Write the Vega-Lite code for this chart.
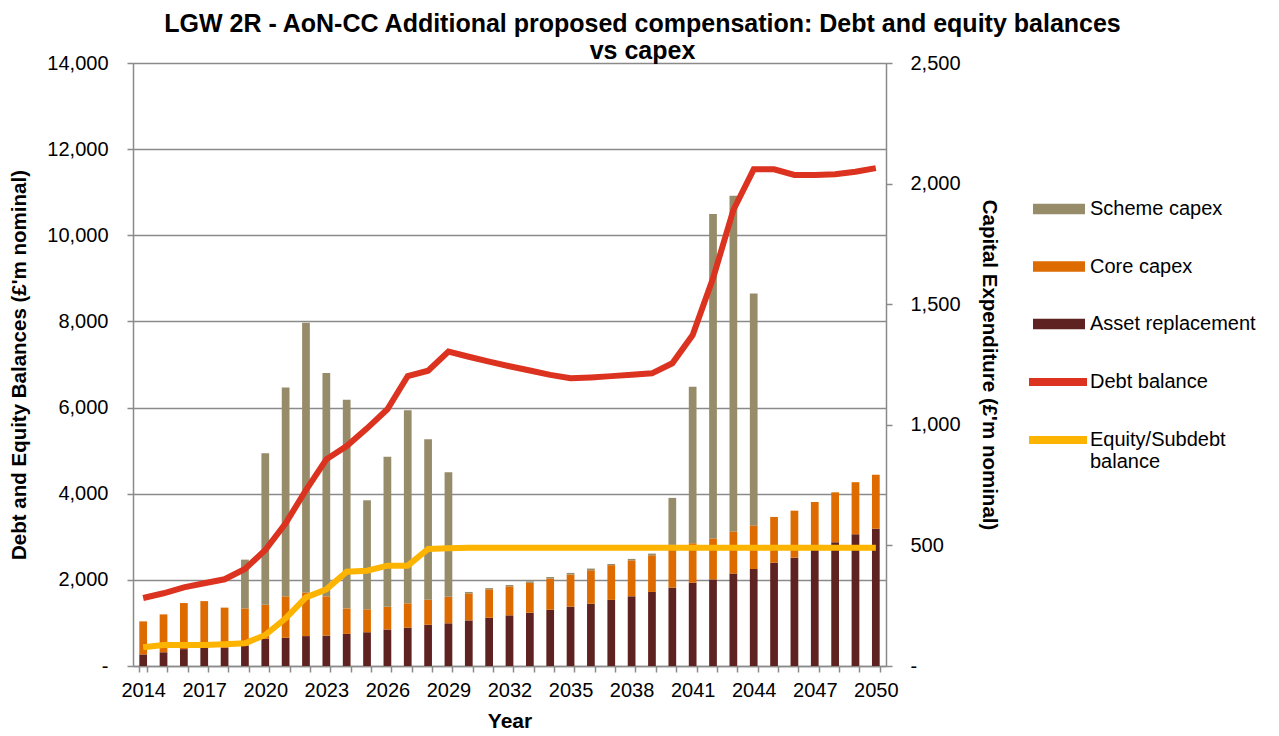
{
  "$schema": "https://vega.github.io/schema/vega-lite/v6.json",
  "width": 753,
  "height": 603,
  "autosize": {"type": "none"},
  "padding": {"left": 133, "top": 63, "right": 393, "bottom": 70},
  "background": "white",
  "config": {
    "font": "Liberation Sans",
    "view": {"stroke": null},
    "axis": {"labelColor": "black", "titleColor": "black", "domainColor": "#8a8a8a", "tickColor": "#8a8a8a", "gridColor": "#8a8a8a", "domainWidth": 1.5, "tickWidth": 1.5, "gridWidth": 1.5}
  },
  "title": {
    "text": ["LGW 2R - AoN-CC Additional proposed compensation: Debt and equity balances", "vs capex"],
    "fontSize": 25,
    "fontWeight": "bold",
    "color": "black",
    "anchor": "middle",
    "frame": "group",
    "dx": 133,
    "offset": -11,
    "lineHeight": 27
  },
  "datasets": {
    "capex": [
      {"year": 2014, "series": "Asset replacement", "value": 48}, {"year": 2014, "series": "Core capex", "value": 137},
      {"year": 2015, "series": "Asset replacement", "value": 57}, {"year": 2015, "series": "Core capex", "value": 157},
      {"year": 2016, "series": "Asset replacement", "value": 70}, {"year": 2016, "series": "Core capex", "value": 191},
      {"year": 2017, "series": "Asset replacement", "value": 76}, {"year": 2017, "series": "Core capex", "value": 193},
      {"year": 2018, "series": "Asset replacement", "value": 76}, {"year": 2018, "series": "Core capex", "value": 166},
      {"year": 2019, "series": "Asset replacement", "value": 84}, {"year": 2019, "series": "Core capex", "value": 155}, {"year": 2019, "series": "Scheme capex", "value": 202},
      {"year": 2020, "series": "Asset replacement", "value": 113}, {"year": 2020, "series": "Core capex", "value": 141}, {"year": 2020, "series": "Scheme capex", "value": 628},
      {"year": 2021, "series": "Asset replacement", "value": 117}, {"year": 2021, "series": "Core capex", "value": 172}, {"year": 2021, "series": "Scheme capex", "value": 866},
      {"year": 2022, "series": "Asset replacement", "value": 124}, {"year": 2022, "series": "Core capex", "value": 181}, {"year": 2022, "series": "Scheme capex", "value": 1118},
      {"year": 2023, "series": "Asset replacement", "value": 126}, {"year": 2023, "series": "Core capex", "value": 163}, {"year": 2023, "series": "Scheme capex", "value": 926},
      {"year": 2024, "series": "Asset replacement", "value": 133}, {"year": 2024, "series": "Core capex", "value": 106}, {"year": 2024, "series": "Scheme capex", "value": 865},
      {"year": 2025, "series": "Asset replacement", "value": 140}, {"year": 2025, "series": "Core capex", "value": 95}, {"year": 2025, "series": "Scheme capex", "value": 452},
      {"year": 2026, "series": "Asset replacement", "value": 151}, {"year": 2026, "series": "Core capex", "value": 95}, {"year": 2026, "series": "Scheme capex", "value": 622},
      {"year": 2027, "series": "Asset replacement", "value": 159}, {"year": 2027, "series": "Core capex", "value": 101}, {"year": 2027, "series": "Scheme capex", "value": 800},
      {"year": 2028, "series": "Asset replacement", "value": 171}, {"year": 2028, "series": "Core capex", "value": 104}, {"year": 2028, "series": "Scheme capex", "value": 665},
      {"year": 2029, "series": "Asset replacement", "value": 177}, {"year": 2029, "series": "Core capex", "value": 110}, {"year": 2029, "series": "Scheme capex", "value": 516},
      {"year": 2030, "series": "Asset replacement", "value": 189}, {"year": 2030, "series": "Core capex", "value": 112}, {"year": 2030, "series": "Scheme capex", "value": 6},
      {"year": 2031, "series": "Asset replacement", "value": 200}, {"year": 2031, "series": "Core capex", "value": 118}, {"year": 2031, "series": "Scheme capex", "value": 5},
      {"year": 2032, "series": "Asset replacement", "value": 210}, {"year": 2032, "series": "Core capex", "value": 120}, {"year": 2032, "series": "Scheme capex", "value": 6},
      {"year": 2033, "series": "Asset replacement", "value": 221}, {"year": 2033, "series": "Core capex", "value": 124}, {"year": 2033, "series": "Scheme capex", "value": 6},
      {"year": 2034, "series": "Asset replacement", "value": 233}, {"year": 2034, "series": "Core capex", "value": 129}, {"year": 2034, "series": "Scheme capex", "value": 7},
      {"year": 2035, "series": "Asset replacement", "value": 246}, {"year": 2035, "series": "Core capex", "value": 133}, {"year": 2035, "series": "Scheme capex", "value": 7},
      {"year": 2036, "series": "Asset replacement", "value": 258}, {"year": 2036, "series": "Core capex", "value": 139}, {"year": 2036, "series": "Scheme capex", "value": 7},
      {"year": 2037, "series": "Asset replacement", "value": 274}, {"year": 2037, "series": "Core capex", "value": 144}, {"year": 2037, "series": "Scheme capex", "value": 5},
      {"year": 2038, "series": "Asset replacement", "value": 289}, {"year": 2038, "series": "Core capex", "value": 149}, {"year": 2038, "series": "Scheme capex", "value": 6},
      {"year": 2039, "series": "Asset replacement", "value": 307}, {"year": 2039, "series": "Core capex", "value": 152}, {"year": 2039, "series": "Scheme capex", "value": 7},
      {"year": 2040, "series": "Asset replacement", "value": 325}, {"year": 2040, "series": "Core capex", "value": 177}, {"year": 2040, "series": "Scheme capex", "value": 195},
      {"year": 2041, "series": "Asset replacement", "value": 345}, {"year": 2041, "series": "Core capex", "value": 164}, {"year": 2041, "series": "Scheme capex", "value": 649},
      {"year": 2042, "series": "Asset replacement", "value": 359}, {"year": 2042, "series": "Core capex", "value": 170}, {"year": 2042, "series": "Scheme capex", "value": 1345},
      {"year": 2043, "series": "Asset replacement", "value": 383}, {"year": 2043, "series": "Core capex", "value": 175}, {"year": 2043, "series": "Scheme capex", "value": 1392},
      {"year": 2044, "series": "Asset replacement", "value": 402}, {"year": 2044, "series": "Core capex", "value": 181}, {"year": 2044, "series": "Scheme capex", "value": 961},
      {"year": 2045, "series": "Asset replacement", "value": 428}, {"year": 2045, "series": "Core capex", "value": 190},
      {"year": 2046, "series": "Asset replacement", "value": 449}, {"year": 2046, "series": "Core capex", "value": 195},
      {"year": 2047, "series": "Asset replacement", "value": 485}, {"year": 2047, "series": "Core capex", "value": 195},
      {"year": 2048, "series": "Asset replacement", "value": 513}, {"year": 2048, "series": "Core capex", "value": 207},
      {"year": 2049, "series": "Asset replacement", "value": 546}, {"year": 2049, "series": "Core capex", "value": 216},
      {"year": 2050, "series": "Asset replacement", "value": 569}, {"year": 2050, "series": "Core capex", "value": 224}
    ],
    "balances": [
      {"year": 2014, "series": "Debt balance", "value": 1579}, {"year": 2015, "series": "Debt balance", "value": 1688},
      {"year": 2016, "series": "Debt balance", "value": 1827}, {"year": 2017, "series": "Debt balance", "value": 1920},
      {"year": 2018, "series": "Debt balance", "value": 2013}, {"year": 2019, "series": "Debt balance", "value": 2252},
      {"year": 2020, "series": "Debt balance", "value": 2693}, {"year": 2021, "series": "Debt balance", "value": 3313},
      {"year": 2022, "series": "Debt balance", "value": 4086}, {"year": 2023, "series": "Debt balance", "value": 4798},
      {"year": 2024, "series": "Debt balance", "value": 5108}, {"year": 2025, "series": "Debt balance", "value": 5518},
      {"year": 2026, "series": "Debt balance", "value": 5960}, {"year": 2027, "series": "Debt balance", "value": 6733},
      {"year": 2028, "series": "Debt balance", "value": 6856}, {"year": 2029, "series": "Debt balance", "value": 7298},
      {"year": 2030, "series": "Debt balance", "value": 7180}, {"year": 2031, "series": "Debt balance", "value": 7065},
      {"year": 2032, "series": "Debt balance", "value": 6960}, {"year": 2033, "series": "Debt balance", "value": 6860},
      {"year": 2034, "series": "Debt balance", "value": 6760}, {"year": 2035, "series": "Debt balance", "value": 6679},
      {"year": 2036, "series": "Debt balance", "value": 6700}, {"year": 2037, "series": "Debt balance", "value": 6730},
      {"year": 2038, "series": "Debt balance", "value": 6760}, {"year": 2039, "series": "Debt balance", "value": 6795},
      {"year": 2040, "series": "Debt balance", "value": 7028}, {"year": 2041, "series": "Debt balance", "value": 7685},
      {"year": 2042, "series": "Debt balance", "value": 9000}, {"year": 2043, "series": "Debt balance", "value": 10587},
      {"year": 2044, "series": "Debt balance", "value": 11532}, {"year": 2045, "series": "Debt balance", "value": 11532},
      {"year": 2046, "series": "Debt balance", "value": 11400}, {"year": 2047, "series": "Debt balance", "value": 11400},
      {"year": 2048, "series": "Debt balance", "value": 11415}, {"year": 2049, "series": "Debt balance", "value": 11477},
      {"year": 2050, "series": "Debt balance", "value": 11560},
      {"year": 2014, "series": "Equity/Subdebt balance", "value": 434}, {"year": 2015, "series": "Equity/Subdebt balance", "value": 488},
      {"year": 2016, "series": "Equity/Subdebt balance", "value": 488}, {"year": 2017, "series": "Equity/Subdebt balance", "value": 490},
      {"year": 2018, "series": "Equity/Subdebt balance", "value": 503}, {"year": 2019, "series": "Equity/Subdebt balance", "value": 526},
      {"year": 2020, "series": "Equity/Subdebt balance", "value": 720}, {"year": 2021, "series": "Equity/Subdebt balance", "value": 1107},
      {"year": 2022, "series": "Equity/Subdebt balance", "value": 1594}, {"year": 2023, "series": "Equity/Subdebt balance", "value": 1780},
      {"year": 2024, "series": "Equity/Subdebt balance", "value": 2190}, {"year": 2025, "series": "Equity/Subdebt balance", "value": 2213},
      {"year": 2026, "series": "Equity/Subdebt balance", "value": 2329}, {"year": 2027, "series": "Equity/Subdebt balance", "value": 2329},
      {"year": 2028, "series": "Equity/Subdebt balance", "value": 2716}, {"year": 2029, "series": "Equity/Subdebt balance", "value": 2732},
      {"year": 2030, "series": "Equity/Subdebt balance", "value": 2747}, {"year": 2031, "series": "Equity/Subdebt balance", "value": 2747},
      {"year": 2032, "series": "Equity/Subdebt balance", "value": 2747}, {"year": 2033, "series": "Equity/Subdebt balance", "value": 2747},
      {"year": 2034, "series": "Equity/Subdebt balance", "value": 2747}, {"year": 2035, "series": "Equity/Subdebt balance", "value": 2747},
      {"year": 2036, "series": "Equity/Subdebt balance", "value": 2747}, {"year": 2037, "series": "Equity/Subdebt balance", "value": 2747},
      {"year": 2038, "series": "Equity/Subdebt balance", "value": 2747}, {"year": 2039, "series": "Equity/Subdebt balance", "value": 2747},
      {"year": 2040, "series": "Equity/Subdebt balance", "value": 2747}, {"year": 2041, "series": "Equity/Subdebt balance", "value": 2747},
      {"year": 2042, "series": "Equity/Subdebt balance", "value": 2747}, {"year": 2043, "series": "Equity/Subdebt balance", "value": 2747},
      {"year": 2044, "series": "Equity/Subdebt balance", "value": 2747}, {"year": 2045, "series": "Equity/Subdebt balance", "value": 2747},
      {"year": 2046, "series": "Equity/Subdebt balance", "value": 2747}, {"year": 2047, "series": "Equity/Subdebt balance", "value": 2747},
      {"year": 2048, "series": "Equity/Subdebt balance", "value": 2747}, {"year": 2049, "series": "Equity/Subdebt balance", "value": 2747},
      {"year": 2050, "series": "Equity/Subdebt balance", "value": 2747}
    ]
  },
  "layer": [
    {
      "data": {"name": "capex"},
      "mark": {"type": "bar"},
      "encoding": {
        "x": {
          "field": "year", "type": "ordinal",
          "scale": {"paddingInner": 0.62, "paddingOuter": 0.31},
          "axis": {"title": "Year", "titleFontSize": 21, "titleFontWeight": "bold", "titlePadding": 10, "labelFontSize": 20, "labelAngle": 0, "labelPadding": 8, "tickSize": 6, "tickBand": "extent", "labelExpr": "(datum.value - 2014) % 3 == 0 ? datum.label : ''", "labelOverlap": false}
        },
        "y": {
          "field": "value", "type": "quantitative", "stack": "zero",
          "scale": {"domain": [0, 2500], "nice": false},
          "axis": {"orient": "right", "values": [0, 500, 1000, 1500, 2000, 2500], "labelExpr": "datum.value == 0 ? '-' : format(datum.value, ',')", "grid": false, "tickSize": 6, "labelPadding": 18, "labelFontSize": 20, "title": "Capital Expenditure (£'m nominal)", "titleFontSize": 20.5, "titleFontWeight": "bold", "titlePadding": 18}
        },
        "fill": {
          "field": "series", "type": "nominal",
          "scale": {"domain": ["Scheme capex", "Core capex", "Asset replacement"], "range": ["#968C6A", "#DD6B00", "#5E2320"]},
          "legend": {"title": null, "orient": "none", "legendX": 900, "legendY": 120, "padding": 0, "symbolType": "M-1,-0.2L1,-0.2L1,0.2L-1,0.2Z", "symbolSize": 2704, "symbolStrokeWidth": 0, "labelFontSize": 20, "labelColor": "black", "labelLimit": 300, "labelOffset": 5, "rowPadding": 21.5}
        },
        "order": {"field": "series", "sort": "ascending"}
      }
    },
    {
      "data": {"name": "balances"},
      "mark": {"type": "line", "strokeWidth": 6},
      "encoding": {
        "x": {
          "field": "year", "type": "ordinal",
          "axis": {"title": "Year", "titleFontSize": 21, "titleFontWeight": "bold", "titlePadding": 10, "labelFontSize": 20, "labelAngle": 0, "labelPadding": 8, "tickSize": 6, "tickBand": "extent", "labelExpr": "(datum.value - 2014) % 3 == 0 ? datum.label : ''", "labelOverlap": false}
        },
        "y": {
          "field": "value", "type": "quantitative",
          "scale": {"domain": [0, 14000], "nice": false},
          "axis": {"orient": "left", "values": [0, 2000, 4000, 6000, 8000, 10000, 12000, 14000], "labelExpr": "datum.value == 0 ? '-\u00a0\u00a0' : format(datum.value, ',')", "grid": true, "tickSize": 6, "labelPadding": 19, "labelFontSize": 20, "title": "Debt and Equity Balances (£'m nominal)", "titleFontSize": 20.5, "titleFontWeight": "bold", "titlePadding": 17}
        },
        "stroke": {
          "field": "series", "type": "nominal",
          "scale": {"domain": ["Debt balance", "Equity/Subdebt balance"], "range": ["#DC3220", "#FDB400"]},
          "legend": {"title": null, "orient": "none", "legendX": 892, "legendY": 286, "padding": 0, "symbolType": "stroke", "symbolSize": 3364, "symbolStrokeWidth": 8, "labelFontSize": 20, "labelColor": "black", "labelLimit": 300, "labelOffset": -1, "rowPadding": 9, "labelExpr": "datum.label == 'Equity/Subdebt balance' ? ['Equity/Subdebt', 'balance'] : datum.label"}
        }
      }
    }
  ],
  "resolve": {"scale": {"y": "independent", "fill": "independent", "stroke": "independent"}}
}
